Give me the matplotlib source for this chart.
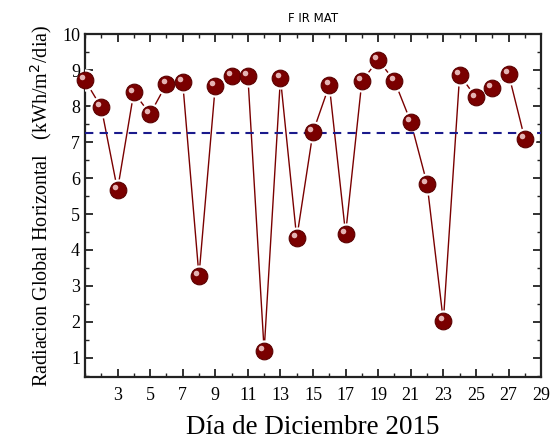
import matplotlib
matplotlib.use("Agg")
import matplotlib.pyplot as plt
import matplotlib.transforms as mtransforms
from matplotlib.ticker import MultipleLocator

dias = list(range(1, 29))
radiacion = [8.72, 7.97, 5.67, 8.38, 7.78, 8.61, 8.67, 3.28, 8.56, 8.83,
             8.84, 1.20, 8.78, 4.33, 7.28, 8.58, 4.45, 8.70, 9.28, 8.70,
             7.56, 5.84, 2.02, 8.87, 8.24, 8.51, 8.90, 7.08]
promedio = 7.25
xticks = list(range(3, 30, 2))

plt.rcParams['font.family'] = ['Liberation Serif', 'DejaVu Serif']

fig = plt.figure(figsize=(5.55, 4.43), dpi=100)
ax = fig.add_axes([0.153, 0.149, 0.822, 0.774])

rojo = '#7a0000'
ax.plot(dias, radiacion, color=rojo, lw=1.0, zorder=2)
# halo blanco para cortar la linea cerca de cada punto
ax.plot(dias, radiacion, 'o', ms=16, color='white', mec='none', zorder=3)
ax.axhline(promedio, color='#1a1a8c', ls=(0, (4, 3)), lw=1.5, zorder=3.5)
ax.plot(dias, radiacion, 'o', ms=12, color=rojo, mec='#5a0000', mew=0.8, zorder=4, clip_on=False)
# brillo de las esferas
off = mtransforms.ScaledTranslation(-2 / 72, 2 / 72, fig.dpi_scale_trans)
ax.plot(dias, radiacion, 'o', ms=4, color='#f0c8c8', mec='none', alpha=0.9,
        zorder=5, clip_on=False, transform=ax.transData + off)

ax.set_xlim(1, 29)
ax.set_ylim(0.47, 10)
ax.set_xticks(xticks)
ax.set_xticklabels([str(t) for t in xticks])
ax.xaxis.set_minor_locator(MultipleLocator(1))
ax.yaxis.set_major_locator(MultipleLocator(1))
ax.yaxis.set_minor_locator(MultipleLocator(0.5))
ax.set_yticks(range(1, 11))

ax.tick_params(which='both', direction='in', top=True, right=True,
               labelsize=13, color='#222222')
ax.tick_params(which='major', length=6, width=1.3)
ax.tick_params(which='minor', length=3, width=1.0)
ax.tick_params(axis='x', pad=7)
for s in ax.spines.values():
    s.set_linewidth(1.6)
    s.set_color('#222222')

ax.set_xlabel('Día de Diciembre 2015', fontsize=19.5, labelpad=8)
ax.set_ylabel('Radiacion Global Horizontal   (kWh/m$^2$/dia)', fontsize=14.5, labelpad=6)
ax.set_title('F IR MAT', fontsize=8.5, family=['DejaVu Sans'], pad=9)

fig.savefig('out.png', dpi=100)
